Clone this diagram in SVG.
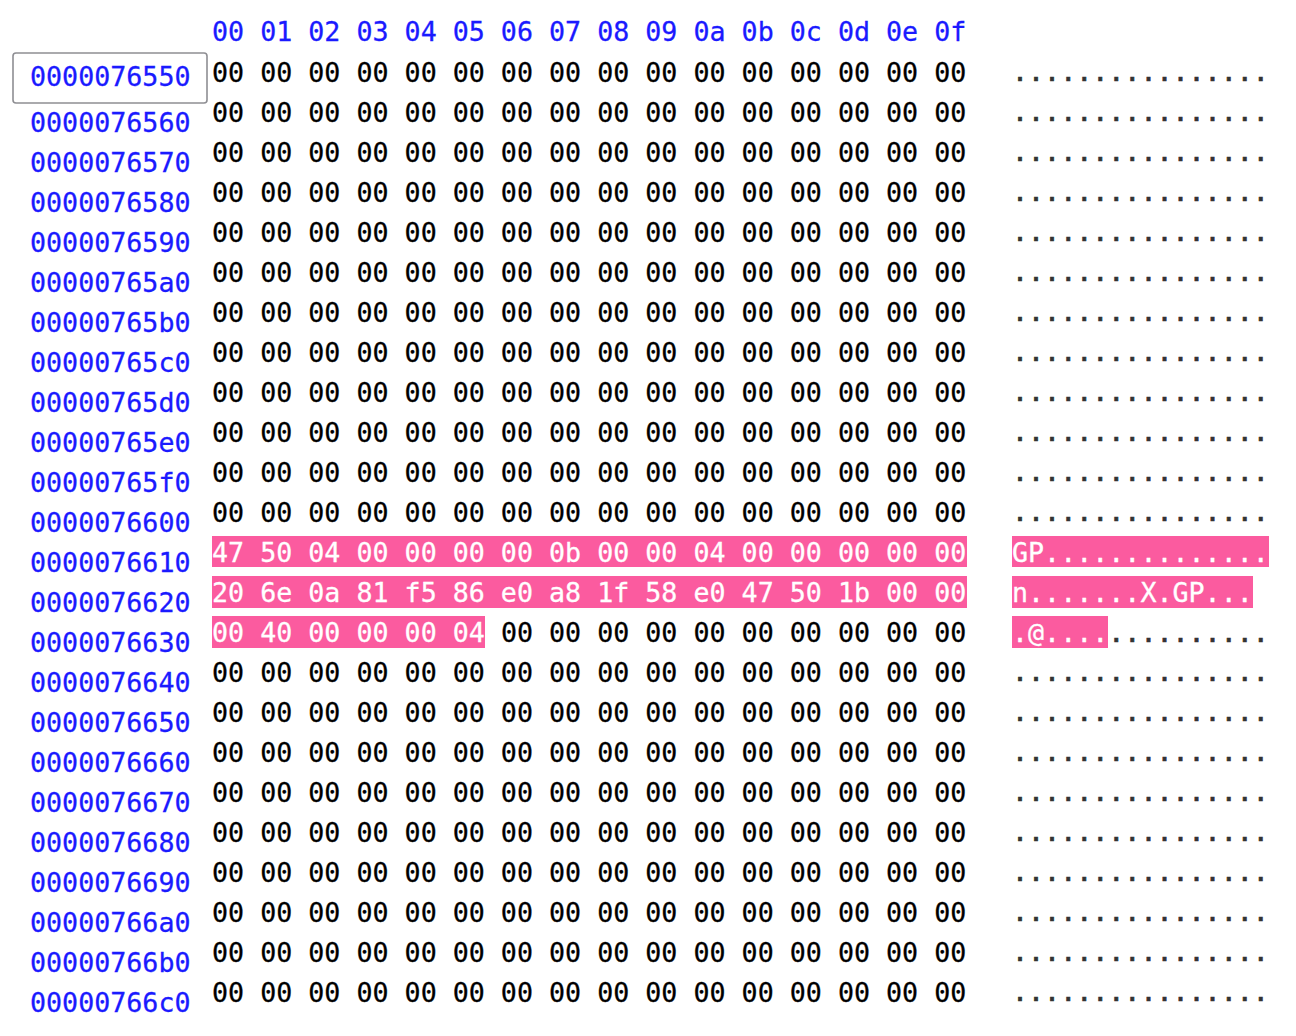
<svg xmlns="http://www.w3.org/2000/svg" width="1296" height="1036" viewBox="0 0 1296 1036">
<style>
text{font-family:"DejaVu Sans Mono","Liberation Mono",monospace;font-size:26.67px}
.hdr{fill:#1a1aff;stroke:#1a1aff;stroke-width:0.3}
.addr{fill:#1a1aff;stroke:#1a1aff;stroke-width:0.3}
.hex{fill:#000;stroke:#000;stroke-width:0.3}
.asc{fill:#333;stroke:#333;stroke-width:0.7}
.w{fill:#fff;stroke:#fff;stroke-width:0.3}
.hl{fill:#fb5b9f}
</style>
<rect width="1296" height="1036" fill="#fff"/>
<g id="header"><text class="hdr" x="212" y="41">00 01 02 03 04 05 06 07 08 09 0a 0b 0c 0d 0e 0f</text></g>
<rect id="cursor" x="13" y="53" width="194" height="50" rx="3" fill="none" stroke="#8e8e93" stroke-width="1.6"/>
<g id="highlights">
<rect class="hl" x="212" y="536" width="755" height="31"/>
<rect class="hl" x="212" y="576" width="755" height="32"/>
<rect class="hl" x="212" y="616" width="273" height="32"/>
<rect class="hl" x="1012" y="536" width="257" height="31"/>
<rect class="hl" x="1012" y="576" width="241" height="32"/>
<rect class="hl" x="1012" y="616" width="96" height="32"/>
</g>
<g id="addresses">
<text class="addr" x="30" y="86">0000076550</text>
<text class="addr" x="30" y="132">0000076560</text>
<text class="addr" x="30" y="172">0000076570</text>
<text class="addr" x="30" y="212">0000076580</text>
<text class="addr" x="30" y="252">0000076590</text>
<text class="addr" x="30" y="292">00000765a0</text>
<text class="addr" x="30" y="332">00000765b0</text>
<text class="addr" x="30" y="372">00000765c0</text>
<text class="addr" x="30" y="412">00000765d0</text>
<text class="addr" x="30" y="452">00000765e0</text>
<text class="addr" x="30" y="492">00000765f0</text>
<text class="addr" x="30" y="532">0000076600</text>
<text class="addr" x="30" y="572">0000076610</text>
<text class="addr" x="30" y="612">0000076620</text>
<text class="addr" x="30" y="652">0000076630</text>
<text class="addr" x="30" y="692">0000076640</text>
<text class="addr" x="30" y="732">0000076650</text>
<text class="addr" x="30" y="772">0000076660</text>
<text class="addr" x="30" y="812">0000076670</text>
<text class="addr" x="30" y="852">0000076680</text>
<text class="addr" x="30" y="892">0000076690</text>
<text class="addr" x="30" y="932">00000766a0</text>
<text class="addr" x="30" y="972">00000766b0</text>
<text class="addr" x="30" y="1012">00000766c0</text>
</g>
<g id="hex">
<text class="hex" x="212" y="82">00 00 00 00 00 00 00 00 00 00 00 00 00 00 00 00</text>
<text class="hex" x="212" y="122">00 00 00 00 00 00 00 00 00 00 00 00 00 00 00 00</text>
<text class="hex" x="212" y="162">00 00 00 00 00 00 00 00 00 00 00 00 00 00 00 00</text>
<text class="hex" x="212" y="202">00 00 00 00 00 00 00 00 00 00 00 00 00 00 00 00</text>
<text class="hex" x="212" y="242">00 00 00 00 00 00 00 00 00 00 00 00 00 00 00 00</text>
<text class="hex" x="212" y="282">00 00 00 00 00 00 00 00 00 00 00 00 00 00 00 00</text>
<text class="hex" x="212" y="322">00 00 00 00 00 00 00 00 00 00 00 00 00 00 00 00</text>
<text class="hex" x="212" y="362">00 00 00 00 00 00 00 00 00 00 00 00 00 00 00 00</text>
<text class="hex" x="212" y="402">00 00 00 00 00 00 00 00 00 00 00 00 00 00 00 00</text>
<text class="hex" x="212" y="442">00 00 00 00 00 00 00 00 00 00 00 00 00 00 00 00</text>
<text class="hex" x="212" y="482">00 00 00 00 00 00 00 00 00 00 00 00 00 00 00 00</text>
<text class="hex" x="212" y="522">00 00 00 00 00 00 00 00 00 00 00 00 00 00 00 00</text>
<text class="w" x="212" y="562">47 50 04 00 00 00 00 0b 00 00 04 00 00 00 00 00</text>
<text class="w" x="212" y="602">20 6e 0a 81 f5 86 e0 a8 1f 58 e0 47 50 1b 00 00</text>
<text class="hex" x="212" y="642"><tspan class="w">00 40 00 00 00 04</tspan> 00 00 00 00 00 00 00 00 00 00</text>
<text class="hex" x="212" y="682">00 00 00 00 00 00 00 00 00 00 00 00 00 00 00 00</text>
<text class="hex" x="212" y="722">00 00 00 00 00 00 00 00 00 00 00 00 00 00 00 00</text>
<text class="hex" x="212" y="762">00 00 00 00 00 00 00 00 00 00 00 00 00 00 00 00</text>
<text class="hex" x="212" y="802">00 00 00 00 00 00 00 00 00 00 00 00 00 00 00 00</text>
<text class="hex" x="212" y="842">00 00 00 00 00 00 00 00 00 00 00 00 00 00 00 00</text>
<text class="hex" x="212" y="882">00 00 00 00 00 00 00 00 00 00 00 00 00 00 00 00</text>
<text class="hex" x="212" y="922">00 00 00 00 00 00 00 00 00 00 00 00 00 00 00 00</text>
<text class="hex" x="212" y="962">00 00 00 00 00 00 00 00 00 00 00 00 00 00 00 00</text>
<text class="hex" x="212" y="1002">00 00 00 00 00 00 00 00 00 00 00 00 00 00 00 00</text>
</g>
<g id="ascii">
<text class="asc" x="1012" y="81">................</text>
<text class="asc" x="1012" y="121">................</text>
<text class="asc" x="1012" y="161">................</text>
<text class="asc" x="1012" y="201">................</text>
<text class="asc" x="1012" y="241">................</text>
<text class="asc" x="1012" y="281">................</text>
<text class="asc" x="1012" y="321">................</text>
<text class="asc" x="1012" y="361">................</text>
<text class="asc" x="1012" y="401">................</text>
<text class="asc" x="1012" y="441">................</text>
<text class="asc" x="1012" y="481">................</text>
<text class="asc" x="1012" y="521">................</text>
<text class="w" x="1012" y="562">GP..............</text>
<text class="w" x="1012" y="602">n.......X.GP...</text>
<text class="asc" x="1012" y="642"><tspan class="w">.@....</tspan>..........</text>
<text class="asc" x="1012" y="681">................</text>
<text class="asc" x="1012" y="721">................</text>
<text class="asc" x="1012" y="761">................</text>
<text class="asc" x="1012" y="801">................</text>
<text class="asc" x="1012" y="841">................</text>
<text class="asc" x="1012" y="881">................</text>
<text class="asc" x="1012" y="921">................</text>
<text class="asc" x="1012" y="961">................</text>
<text class="asc" x="1012" y="1001">................</text>
</g>
</svg>
